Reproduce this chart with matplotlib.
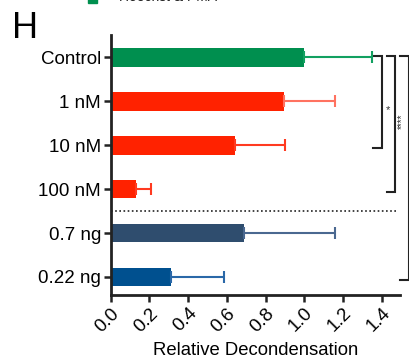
import matplotlib
matplotlib.use('Agg')
import matplotlib.pyplot as plt
import numpy as np

plt.rcParams['font.family'] = ['Liberation Sans', 'DejaVu Sans']

categories = ['Control', '1 nM', '10 nM', '100 nM', '0.7 ng', '0.22 ng']
means = [1.00, 0.895, 0.64, 0.13, 0.69, 0.31]
errors = [0.35, 0.265, 0.26, 0.08, 0.47, 0.275]
bar_colors = ['#008f4f', '#ff2200', '#ff2200', '#ff2200', '#2f4d6e', '#00508f']
err_colors = ['#12a060', '#ff7260', '#ff3a20', '#ff3a20', '#4a6890', '#2a68a8']
x_ticks = [0.0, 0.2, 0.4, 0.6, 0.8, 1.0, 1.2, 1.4]

# significance brackets: (first row, last row, x position, label)
brackets = [(0, 2, 1.40, '*'), (0, 3, 1.47, '****'), (0, 5, 1.54, '')]

fig = plt.figure(figsize=(4.09, 3.62), dpi=100)
ax = fig.add_axes([0.2707, 0.185, 0.7073, 0.718])

y = np.arange(len(categories))
ax.barh(y, means, height=0.43, color=bar_colors, zorder=2)
for yi, m, e, c in zip(y, means, errors, err_colors):
    ax.errorbar(m, yi, xerr=[[0], [e]], fmt='none', ecolor=c,
                elinewidth=1.5, capsize=4.5, capthick=1.5, zorder=3)

ax.axhline(3.5, xmin=0, xmax=0.99, color='#222222', linestyle=(0, (1, 1.5)),
           linewidth=1.2, zorder=1)

tick_len = 0.045
for y0, y1, xb, label in brackets:
    ax.plot([xb - tick_len, xb, xb, xb - tick_len], [y0 - 0.03, y0 - 0.03, y1 + 0.06, y1 + 0.06],
            color='#222222', linewidth=1.5, clip_on=False, solid_joinstyle='miter')
    if label == '*':
        ax.text(xb + 0.03, (y0 + y1) / 2 + 0.2, label, fontsize=8, ha='center',
                va='center', clip_on=False, color='#333333')
    elif label:
        ax.text(xb + 0.032, (y0 + y1) / 2 - 0.05, label, fontsize=7, ha='center',
                va='center', rotation=90, clip_on=False, color='#333333')

ax.set_xlim(0, 1.494)
ax.set_ylim(5.41, -0.5)
ax.set_yticks(y)
ax.set_yticklabels(categories, fontsize=13.5)
ax.set_xticks(x_ticks)
ax.set_xticklabels([f'{t:.1f}' for t in x_ticks], rotation=45, ha='right',
                   rotation_mode='anchor', fontsize=13.5)
ax.set_xlabel('Relative Decondensation', fontsize=13.3, labelpad=5)

for side in ['top', 'right']:
    ax.spines[side].set_visible(False)
for side in ['left', 'bottom']:
    ax.spines[side].set_linewidth(2)
    ax.spines[side].set_color('#222222')
ax.tick_params(axis='both', length=5, width=1.8, color='#222222', pad=2)

fig.text(0.03, 0.895, 'H', fontsize=26)

# legend entry cut off at the top of the panel
fig.patches.append(plt.Rectangle((0.215, 0.993), 0.022, 0.03, transform=fig.transFigure,
                                 color='#008f4f', clip_on=False))
fig.text(0.29, 0.988, 'Hoechst & PMA', fontsize=10, va='bottom', color='#222222')

fig.savefig('out.png', dpi=100)
